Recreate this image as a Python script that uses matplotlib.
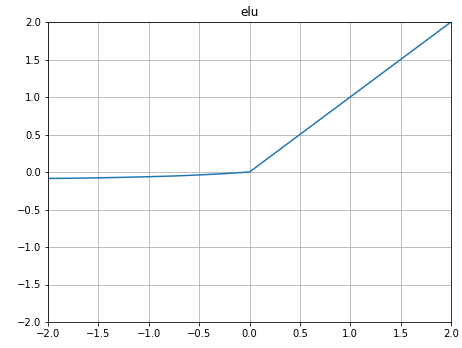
#!/usr/bin/env python3

import matplotlib
matplotlib.use("Agg")
import matplotlib.pyplot as plt

TITLE = "elu"

# values
xs = [-2.0, -1.75, -1.5, -1.25, -1.0, -0.75, -0.5, -0.25, 0.0, 0.5, 1.0, 1.5, 2.0]
ys = [-0.086, -0.083, -0.078, -0.071, -0.063, -0.053, -0.039, -0.022, 0.0, 0.5, 1.0, 1.5, 2.0]

ticks = [-2.0, -1.5, -1.0, -0.5, 0.0, 0.5, 1.0, 1.5, 2.0]

DPI = 72


def main():
    fig = plt.figure(figsize=(462 / DPI, 348 / DPI), dpi=DPI)
    ax = fig.add_axes([48 / 462, 1 - 322 / 348, (451 - 48) / 462, (322 - 22) / 348])

    ax.plot(xs, ys, color="#1f77b4")

    ax.set_xlim(-2, 2)
    ax.set_ylim(-2, 2)
    ax.set_xticks(ticks)
    ax.set_yticks(ticks)
    ax.grid(True)
    ax.set_title(TITLE)

    fig.savefig("out.png", dpi=DPI)
    plt.close(fig)


if __name__ == "__main__":
    main()
